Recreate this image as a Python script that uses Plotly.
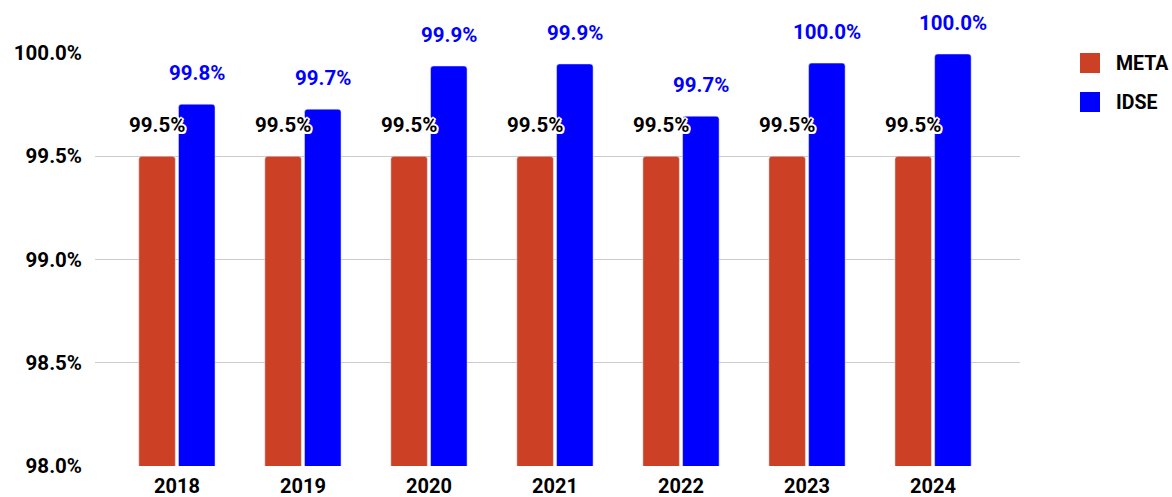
import plotly.graph_objects as go

# Yearly compliance rates (percent)
years = ["2018", "2019", "2020", "2021", "2022", "2023", "2024"]
meta = [99.5, 99.5, 99.5, 99.5, 99.5, 99.5, 99.5]
idse = [99.752, 99.728, 99.937, 99.947, 99.694, 99.951, 99.995]
y_ticks = [98.0, 98.5, 99.0, 99.5, 100.0]
y_tick_labels = ["98.0%", "98.5%", "99.0%", "99.5%", "100.0%"]

META_COLOR = "#CC4125"
IDSE_COLOR = "#0000FF"
FONT = "Roboto"
LABEL_SIZE = 20.5

fig = go.Figure()
fig.add_trace(go.Bar(x=years, y=meta, name="META", marker=dict(color=META_COLOR, cornerradius=3),
                     showlegend=False, hoverinfo="x+y"))
fig.add_trace(go.Bar(x=years, y=idse, name="IDSE", marker=dict(color=IDSE_COLOR, cornerradius=3),
                     showlegend=False, hoverinfo="x+y"))

# Value labels floating above each bar; META labels get a white halo.
# Category axis positions are addressed by index.
halo = ("-2px 0 0 #fff, 2px 0 0 #fff, 0 -2px 0 #fff, 0 2px 0 #fff, "
        "-1.5px -1.5px 0 #fff, 1.5px -1.5px 0 #fff, -1.5px 1.5px 0 #fff, 1.5px 1.5px 0 #fff")
for idx, (m, d) in enumerate(zip(meta, idse)):
    fig.add_annotation(x=idx, y=m, xref="x", yref="y", text=f"{m:.1f}%", showarrow=False,
                       xshift=-20, yshift=31, yanchor="middle",
                       font=dict(family=FONT, size=LABEL_SIZE, color="#000000", weight="bold",
                                 shadow=halo))
    fig.add_annotation(x=idx, y=d, xref="x", yref="y", text=f"{d:.1f}%", showarrow=False,
                       xshift=20, yshift=31, yanchor="middle",
                       font=dict(family=FONT, size=LABEL_SIZE, color=IDSE_COLOR, weight="bold"))

# Legend on the right
for i, (label, color) in enumerate([("META", META_COLOR), ("IDSE", IDSE_COLOR)]):
    y0 = 53 + i * 39
    fig.add_shape(type="rect", xref="paper", yref="paper",
                  x0=(1080 - 95) / 925, x1=(1100 - 95) / 925,
                  y0=1 - (y0 + 20 - 53) / 413, y1=1 - (y0 - 53) / 413,
                  fillcolor=color, line=dict(width=0))
    fig.add_annotation(xref="paper", yref="paper", x=(1114 - 95) / 925, y=1 - (y0 + 10 - 53) / 413,
                       text=label, showarrow=False, xanchor="left", yanchor="middle",
                       font=dict(family=FONT, size=19.5, color="#000000", weight="bold"))

fig.update_layout(
    width=1172, height=497,
    margin=dict(l=95, r=152, t=53, b=31, autoexpand=False),
    paper_bgcolor="white", plot_bgcolor="white",
    barmode="group", bargap=0.37, bargroupgap=0.08,
    font=dict(family=FONT, color="#000000"),
    xaxis=dict(type="category", range=[-0.65, 6.69], showgrid=False, showline=False, zeroline=False,
               tickfont=dict(family=FONT, size=20, weight="bold", color="#000000"),
               ticklabelstandoff=6),
    yaxis=dict(range=[98, 100], tickvals=y_ticks, ticktext=y_tick_labels,
               showgrid=True, gridcolor="#CCCCCC", gridwidth=1, zeroline=False,
               showline=False,
               tickfont=dict(family=FONT, size=LABEL_SIZE, weight="bold", color="#000000"),
               ticklabelstandoff=12),
)

fig.write_html("out.html")
